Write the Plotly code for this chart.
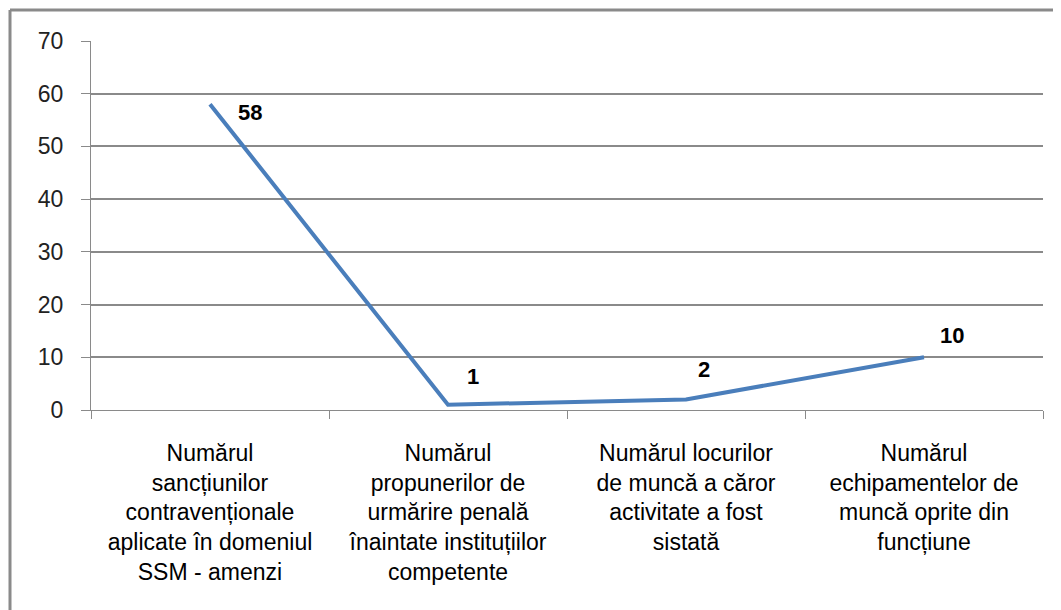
import plotly.graph_objects as go

categories = [
    "Numărul<br>sancțiunilor<br>contravenționale<br>aplicate în domeniul<br>SSM - amenzi",
    "Numărul<br>propunerilor de<br>urmărire penală<br>înaintate instituțiilor<br>competente",
    "Numărul locurilor<br>de muncă a căror<br>activitate a fost<br>sistată",
    "Numărul<br>echipamentelor de<br>muncă oprite din<br>funcțiune",
]
values = [58, 1, 2, 10]
y_ticks = [0, 10, 20, 30, 40, 50, 60, 70]
label_offsets = [(40, -8), (25, 28), (18, 30), (28, 22)]

W, H = 1061, 610
OFF = 8  # page offset of the figure inside the window
L, T = 91 - OFF, 41 - OFF
pw, ph = 952, 369
R = W - L - pw
B = H - T - ph

fig = go.Figure()
fig.add_trace(go.Scatter(
    x=categories, y=values, mode="lines",
    line=dict(color="#4a7ebb", width=4),
    hoverinfo="skip", showlegend=False,
))

for c, v, (dx, dy) in zip(categories, values, label_offsets):
    fig.add_annotation(x=c, y=v, text=f"<b>{v}</b>", showarrow=False,
                       xshift=dx, yshift=dy,
                       font=dict(family="Liberation Sans, Arial", size=22, color="#000000"))

grey = "#8a8a8a"
fig.update_xaxes(
    type="category", range=[-0.5, 3.5],
    showline=True, linecolor=grey, linewidth=1,
    ticks="outside", tickson="boundaries", ticklen=8, tickcolor=grey,
    showgrid=False,
    tickfont=dict(family="Liberation Sans, Arial", size=23, color="#000000"),
    ticklabelstandoff=22,
)
fig.update_yaxes(
    range=[0, 70], tickvals=y_ticks,
    showline=True, linecolor=grey, linewidth=1,
    ticks="outside", ticklen=9, tickcolor=grey,
    showgrid=True, gridcolor=grey, gridwidth=1.5,
    zeroline=False,
    tickfont=dict(family="Liberation Sans, Arial", size=23, color="#222222"),
    ticklabelstandoff=13,
)

# outer chart border (left and top visible)
bx = (10 - OFF - L) / pw
by = 1 + (T - (10 - OFF)) / ph
fig.add_shape(type="line", xref="paper", yref="paper", x0=bx, x1=bx, y0=-2, y1=by,
              line=dict(color=grey, width=3))
fig.add_shape(type="line", xref="paper", yref="paper", x0=bx, x1=1.5, y0=by, y1=by,
              line=dict(color=grey, width=3))

fig.update_layout(
    width=W, height=H,
    margin=dict(l=L, r=R, t=T, b=B, autoexpand=False),
    paper_bgcolor="white", plot_bgcolor="white",
    showlegend=False,
)
fig.write_html("out.html")
